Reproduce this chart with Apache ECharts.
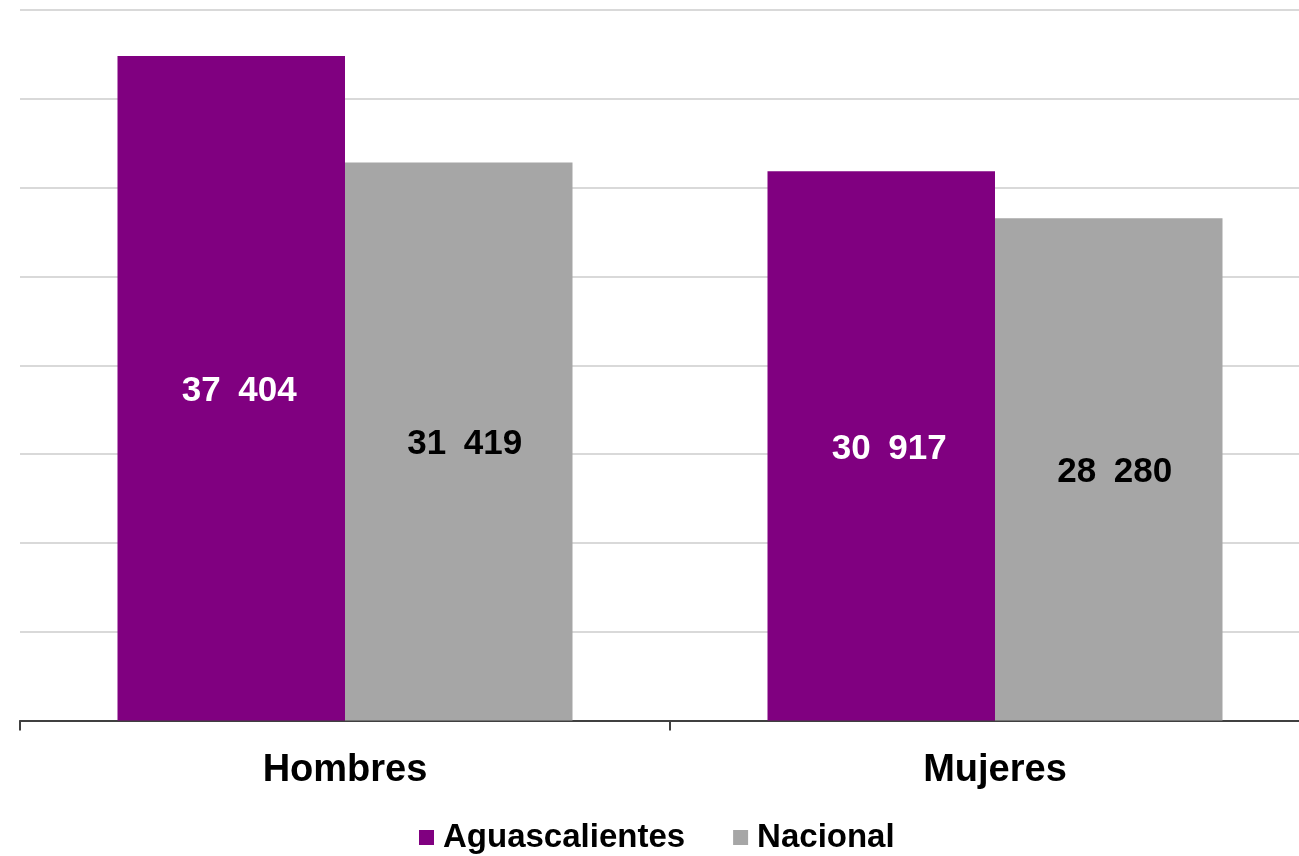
<!DOCTYPE html>
<html>
<head>
<meta charset="utf-8">
<script src="https://cdn.jsdelivr.net/npm/echarts@6/dist/echarts.min.js"></script>
<style>
  html, body { margin: 0; padding: 0; background: #fff; overflow: hidden; }
  /* el gráfico original sigue unos 20px fuera del borde derecho */
  #main { width: 1320px; height: 856px; }
</style>
</head>
<body>
<div id="main"></div>
<script>
  // datos
  const categorias = ['Hombres', 'Mujeres'];
  const aguascalientes = [37404, 30917];
  const nacional = [31419, 28280];
  const nombresSerie = ['Aguascalientes', 'Nacional'];

  // 37404 -> "37 404"
  function miles(v) {
    return String(v).replace(/\B(?=(\d{3})+(?!\d))/g, '\u2002');
  }

  const fuente = '"Liberation Sans", Arial, sans-serif';

  let myChart = echarts.init(document.getElementById('main'));
  myChart.setOption({
    animation: false,
    grid: { left: 20, right: 0, top: 10, bottom: 135.5 },
    color: ['#800080', '#A6A6A6'],
    legend: {
      data: nombresSerie,
      left: 414,
      top: 816,
      icon: 'rect',
      itemWidth: 15,
      itemHeight: 15,
      itemGap: 48,
      textStyle: {
        fontFamily: fuente,
        fontWeight: 'bold',
        fontSize: 33,
        color: '#000',
        padding: [0, 0, 0, 4]
      }
    },
    xAxis: {
      type: 'category',
      data: categorias,
      axisLine: { lineStyle: { color: '#404040', width: 2 } },
      axisTick: { show: true, alignWithLabel: false, length: 10, lineStyle: { color: '#404040', width: 2 } },
      axisLabel: {
        margin: 31,
        fontFamily: fuente,
        fontWeight: 'bold',
        fontSize: 38,
        color: '#000'
      }
    },
    yAxis: {
      type: 'value',
      min: 0,
      max: 40000,
      interval: 5000,
      axisLabel: { show: false },
      axisLine: { show: false },
      axisTick: { show: false },
      splitLine: { lineStyle: { color: '#D9D9D9', width: 2 } }
    },
    series: [
      {
        name: nombresSerie[0],
        type: 'bar',
        data: aguascalientes,
        barGap: '0%',
        barCategoryGap: '30%',
        label: {
          show: true,
          position: 'inside',
          offset: [8, 3],
          formatter: p => miles(p.value),
          fontFamily: fuente,
          fontWeight: 'bold',
          fontSize: 35,
          color: '#fff'
        }
      },
      {
        name: nombresSerie[1],
        type: 'bar',
        data: nacional,
        barGap: '0%',
        barCategoryGap: '30%',
        label: {
          show: true,
          position: 'inside',
          offset: [6, 3],
          formatter: p => miles(p.value),
          fontFamily: fuente,
          fontWeight: 'bold',
          fontSize: 35,
          color: '#000'
        }
      }
    ]
  });
</script>
</body>
</html>
